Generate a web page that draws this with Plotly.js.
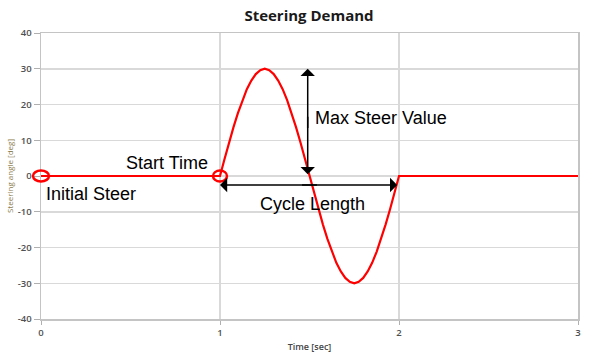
<!DOCTYPE html>
<html>
<head>
<meta charset="utf-8">
<script src="https://cdn.plot.ly/plotly-3.0.1.min.js"></script>
<style>html,body{margin:0;padding:0;background:#fff;}#chart{width:600px;height:363px;}</style>
</head>
<body>
<div id="chart"></div>
<script>
// Time samples [sec]
const timeSec = [0, 1, 1.025, 1.05, 1.075, 1.1, 1.125, 1.15, 1.175, 1.2, 1.225, 1.25,
  1.275, 1.3, 1.325, 1.35, 1.375, 1.4, 1.425, 1.45, 1.475, 1.5,
  1.525, 1.55, 1.575, 1.6, 1.625, 1.65, 1.675, 1.7, 1.725, 1.75,
  1.775, 1.8, 1.825, 1.85, 1.875, 1.9, 1.925, 1.95, 1.975, 2, 3];
// Steering angle [deg]
const steerDeg = [0, 0, 4.7, 9.3, 13.6, 17.6, 21.2, 24.3, 26.7, 28.5, 29.6, 30,
  29.6, 28.5, 26.7, 24.3, 21.2, 17.6, 13.6, 9.3, 4.7, 0,
  -4.7, -9.3, -13.6, -17.6, -21.2, -24.3, -26.7, -28.5, -29.6, -30,
  -29.6, -28.5, -26.7, -24.3, -21.2, -17.6, -13.6, -9.3, -4.7, 0, 0];
const xTicks = [0, 1, 2, 3];
const yTicks = [-40, -30, -20, -10, 0, 10, 20, 30, 40];
// Annotation parameters
const initialSteer = 0;
const startTime = 1;
const cycleEnd = 2;
const maxSteer = 30;
const maxArrowTime = 1.49;
const cycleArrowLevel = -2.5;

const tickFont = {family: 'Open Sans, sans-serif', size: 9.5, color: '#505050', weight: 600};
const labelFont = {family: 'Liberation Sans, Arial, sans-serif', size: 18, color: '#000000'};

const trace = {
  x: timeSec, y: steerDeg, type: 'scatter', mode: 'lines',
  line: {color: '#ff0000', width: 2.2}, hoverinfo: 'skip', cliponaxis: false
};

const arrowStyle = {text: '', showarrow: true, arrowhead: 1, arrowsize: 1.6, arrowwidth: 1.5,
  arrowcolor: '#000000', standoff: 0, startstandoff: 0, xref: 'x', yref: 'y', axref: 'x', ayref: 'y'};

const layout = {
  width: 600, height: 363,
  margin: {l: 41, r: 22, t: 33, b: 44},
  paper_bgcolor: '#ffffff', plot_bgcolor: '#ffffff',
  showlegend: false,
  title: {
    text: 'Steering Demand', x: 0.515, xanchor: 'center', y: 1 - 16/363, yanchor: 'middle',
    xref: 'container', yref: 'container',
    font: {family: 'Open Sans, sans-serif', size: 15, color: '#1a1a1a', weight: 700}
  },
  xaxis: {
    range: [0, 3], tickvals: xTicks, ticktext: xTicks.map(String),
    showgrid: true, gridcolor: '#d9d9d9', gridwidth: 1.5,
    showline: true, linecolor: '#c4c4c4', linewidth: 1.5, mirror: true,
    ticks: 'outside', ticklen: 4, tickcolor: '#b0b0b0', tickwidth: 1,
    tickfont: tickFont, zeroline: false, fixedrange: true,
    title: {text: 'Time [sec]', font: {family: 'Open Sans, sans-serif', size: 9, color: '#444444', weight: 600}, standoff: 6}
  },
  yaxis: {
    range: [-40, 40], tickvals: yTicks, ticktext: yTicks.map(String),
    showgrid: true, gridcolor: '#d9d9d9', gridwidth: 1.5,
    showline: true, linecolor: '#c4c4c4', linewidth: 1.5, mirror: true,
    ticks: 'outside', ticklen: 6, tickcolor: '#b0b0b0', tickwidth: 1,
    tickfont: tickFont, zeroline: false, fixedrange: true,
    title: {text: 'Steering angle [deg]', font: {family: 'Open Sans, sans-serif', size: 8, color: '#8a7a4a'}, standoff: 3}
  },
  shapes: [
    {type: 'circle', xref: 'paper', yref: 'paper', xsizemode: 'pixel', ysizemode: 'pixel',
     xanchor: initialSteer / 3, yanchor: 0.5, x0: -8, x1: 8, y0: -5.5, y1: 5.5,
     line: {color: '#ff0000', width: 2.5}},
    {type: 'circle', xref: 'paper', yref: 'paper', xsizemode: 'pixel', ysizemode: 'pixel',
     xanchor: startTime / 3, yanchor: 0.5, x0: -7, x1: 7, y0: -5.5, y1: 5.5,
     line: {color: '#ff0000', width: 2.5}}
  ],
  annotations: [
    {x: 0.017, y: -5.0, xref: 'x', yref: 'y', text: 'Initial Steer', showarrow: false, xanchor: 'left', yanchor: 'middle', font: labelFont},
    {x: 0.944, y: 3.5, xref: 'x', yref: 'y', text: 'Start Time', showarrow: false, xanchor: 'right', yanchor: 'middle', font: labelFont},
    {x: 1.52, y: 16.2, xref: 'x', yref: 'y', text: 'Max Steer Value', showarrow: false, xanchor: 'left', yanchor: 'middle', font: labelFont},
    {x: 1.212, y: -7.7, xref: 'x', yref: 'y', text: 'Cycle Length', showarrow: false, xanchor: 'left', yanchor: 'middle', font: labelFont},
    Object.assign({x: maxArrowTime, y: maxSteer, ax: maxArrowTime, ay: 13}, arrowStyle),
    Object.assign({x: maxArrowTime, y: 0.5, ax: maxArrowTime, ay: 17}, arrowStyle),
    Object.assign({x: startTime, y: cycleArrowLevel, ax: 1.55, ay: cycleArrowLevel}, arrowStyle),
    Object.assign({x: cycleEnd - 0.01, y: cycleArrowLevel, ax: 1.45, ay: cycleArrowLevel}, arrowStyle)
  ]
};

Plotly.newPlot('chart', [trace], layout, {displayModeBar: false, staticPlot: true});
</script>
</body>
</html>
